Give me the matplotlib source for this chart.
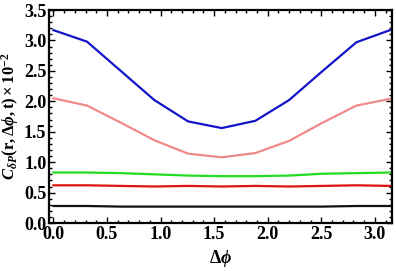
import numpy as np
import matplotlib
matplotlib.use('Agg')
import matplotlib.pyplot as plt
from matplotlib.ticker import MultipleLocator

plt.rcParams['font.family'] = 'Liberation Serif'
plt.rcParams['font.weight'] = 'bold'
plt.rcParams['mathtext.fontset'] = 'custom'
plt.rcParams['mathtext.rm'] = 'Liberation Serif:bold'
plt.rcParams['mathtext.it'] = 'Liberation Serif:italic:bold'
plt.rcParams['mathtext.bf'] = 'Liberation Serif:bold'

# data: delta phi at k*pi/10
dphi = np.arange(11) * np.pi / 10
blue = [3.17, 2.98, 2.50, 2.02, 1.67, 1.56, 1.68, 2.02, 2.50, 2.97, 3.17]
pink = [2.05, 1.93, 1.65, 1.36, 1.14, 1.08, 1.15, 1.35, 1.65, 1.93, 2.04]
green = [0.83, 0.83, 0.82, 0.80, 0.78, 0.77, 0.77, 0.78, 0.81, 0.82, 0.83]
red = [0.62, 0.62, 0.61, 0.60, 0.61, 0.60, 0.61, 0.60, 0.61, 0.62, 0.61]
black = [0.28, 0.28, 0.27, 0.27, 0.27, 0.27, 0.27, 0.27, 0.27, 0.28, 0.28]

fig = plt.figure(figsize=(3.96, 2.71), dpi=100)
ax = fig.add_axes([0.124, 0.177, 0.866, 0.786])

ax.plot(dphi, blue, color='#1414c8', lw=1.6)
ax.plot(dphi, pink, color='#f08a8a', lw=1.6)
ax.plot(dphi, green, color='#22dd22', lw=1.6)
ax.plot(dphi, red, color='#dd1515', lw=1.6)
ax.plot(dphi, black, color='#111111', lw=1.6)

ax.set_xlim(-0.04, 3.16)
ax.set_ylim(0, 3.5)
ax.xaxis.set_major_locator(MultipleLocator(0.5))
ax.xaxis.set_minor_locator(MultipleLocator(0.1))
ax.yaxis.set_major_locator(MultipleLocator(0.5))
ax.yaxis.set_minor_locator(MultipleLocator(0.1))
ax.tick_params(which='both', direction='in', top=True, right=True, labelsize=13, pad=2)
ax.tick_params(which='major', length=4, width=1)
ax.tick_params(which='minor', length=2, width=1)
for s in ax.spines.values():
    s.set_linewidth(1.6)

ax.set_xlabel(r'$\Delta\phi$', fontsize=13, labelpad=4)
ax.set_ylabel(r'$C_{\delta P}(\mathrm{r},\Delta\phi,\mathrm{t})\times10^{-2}$', fontsize=12, labelpad=2)

fig.savefig('out.png', dpi=100)
